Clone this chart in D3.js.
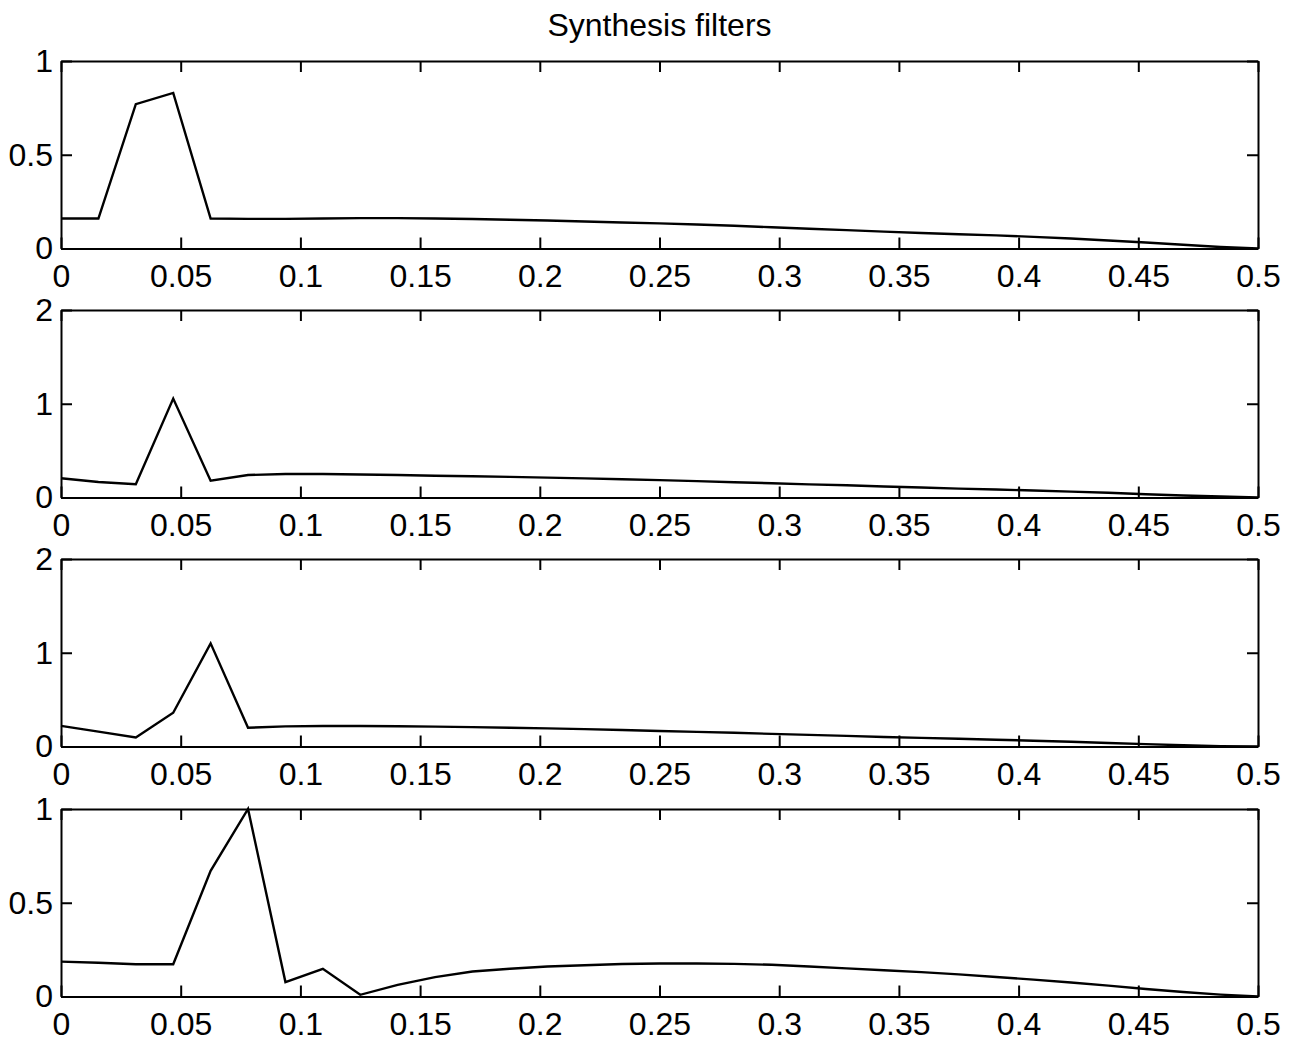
<!DOCTYPE html>
<html>
<head>
<meta charset="utf-8">
<script src="https://cdn.jsdelivr.net/npm/d3@7"></script>
<style>
  body { margin: 0; background: #fff; }
  text { font-family: "Liberation Sans", Arial, Helvetica, sans-serif; }
</style>
</head>
<body>
<div id="chart-area"></div>
<script>
// frequency grid: 33 points, 0 .. 0.5 in steps of 1/64
var freqs = d3.range(33).map(function (k) { return k / 64; });

var filter1 = [0.16, 0.16, 0.77, 0.83, 0.16, 0.158, 0.158, 0.16, 0.162, 0.162, 0.16,
  0.157, 0.153, 0.149, 0.144, 0.139, 0.134, 0.128, 0.121, 0.113, 0.105, 0.098,
  0.09, 0.083, 0.076, 0.07, 0.062, 0.053, 0.043, 0.032, 0.02, 0.008, 0.0];

var filter2 = [0.205, 0.165, 0.142, 1.055, 0.18, 0.24, 0.25, 0.25, 0.245, 0.24, 0.232,
  0.226, 0.22, 0.212, 0.204, 0.195, 0.185, 0.175, 0.163, 0.152, 0.14, 0.13,
  0.118, 0.107, 0.095, 0.085, 0.075, 0.063, 0.05, 0.035, 0.022, 0.01, 0.0];

var filter3 = [0.22, 0.158, 0.096, 0.36, 1.1, 0.2, 0.215, 0.218, 0.218, 0.216, 0.212,
  0.207, 0.2, 0.193, 0.185, 0.176, 0.166, 0.156, 0.146, 0.135, 0.124, 0.113,
  0.102, 0.092, 0.082, 0.072, 0.062, 0.05, 0.038, 0.025, 0.013, 0.004, 0.0];

var filter4 = [0.186, 0.18, 0.172, 0.172, 0.67, 1.0, 0.077, 0.148, 0.009, 0.062, 0.103,
  0.133, 0.148, 0.16, 0.167, 0.173, 0.176, 0.176, 0.174, 0.169, 0.16, 0.15,
  0.14, 0.13, 0.118, 0.104, 0.09, 0.075, 0.058, 0.04, 0.024, 0.01, 0.0];

var xTicks = [0, 0.05, 0.1, 0.15, 0.2, 0.25, 0.3, 0.35, 0.4, 0.45, 0.5];
var yTicksA = [0, 0.5, 1];
var yTicksB = [0, 1, 2];

var panels = [
  { values: filter1, ymax: 1, yticks: yTicksA },
  { values: filter2, ymax: 2, yticks: yTicksB },
  { values: filter3, ymax: 2, yticks: yTicksB },
  { values: filter4, ymax: 1, yticks: yTicksA }
];

var chartW = 1294, chartH = 1046;
var plotLeft = 61, plotRight = 1258;
var panelTops = [61, 310, 559, 809];
var panelH = 187.5;
var tickLen = 11;

var svg = d3.select("#chart-area").append("svg")
  .attr("width", chartW)
  .attr("height", chartH);

var x = d3.scaleLinear().domain([0, 0.5]).range([plotLeft, plotRight]);

svg.append("text")
  .attr("x", (plotLeft + plotRight) / 2)
  .attr("y", 36)
  .attr("text-anchor", "middle")
  .attr("font-size", 32)
  .text("Synthesis filters");

function fmt(d) { return String(d); }

panels.forEach((p, i) => {
  let yTop = panelTops[i], yBot = yTop + panelH;
  let y = d3.scaleLinear().domain([0, p.ymax]).range([yBot, yTop]);
  let g = svg.append("g");

  g.append("g")
    .attr("transform", "translate(0," + yBot + ")")
    .call(d3.axisBottom(x).tickValues(xTicks).tickFormat(fmt)
      .tickSizeInner(-tickLen).tickSizeOuter(0).tickPadding(16));

  g.append("g")
    .attr("transform", "translate(0," + yTop + ")")
    .call(d3.axisTop(x).tickValues(xTicks).tickFormat("")
      .tickSizeInner(-tickLen).tickSizeOuter(0));

  g.append("g")
    .attr("transform", "translate(" + plotLeft + ",0)")
    .call(d3.axisLeft(y).tickValues(p.yticks).tickFormat(fmt)
      .tickSizeInner(-tickLen).tickSizeOuter(0).tickPadding(8));

  g.append("g")
    .attr("transform", "translate(" + plotRight + ",0)")
    .call(d3.axisRight(y).tickValues(p.yticks).tickFormat("")
      .tickSizeInner(-tickLen).tickSizeOuter(0));

  g.selectAll(".domain, .tick line")
    .attr("stroke", "#000")
    .attr("stroke-width", 2);
  g.selectAll(".tick text")
    .attr("font-size", 32)
    .attr("font-family", "Liberation Sans, Arial, sans-serif")
    .attr("fill", "#000");

  let line = d3.line()
    .x((d, k) => x(freqs[k]))
    .y((d) => y(d));

  g.append("path")
    .datum(p.values)
    .attr("fill", "none")
    .attr("stroke", "#000")
    .attr("stroke-width", 2.4)
    .attr("stroke-linejoin", "miter")
    .attr("d", line);
});
</script>
</body>
</html>
